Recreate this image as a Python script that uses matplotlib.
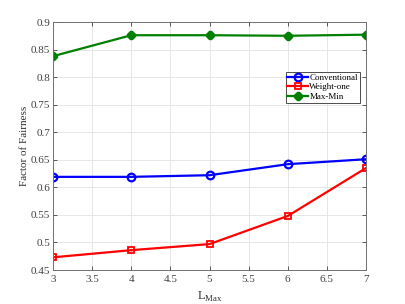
import matplotlib.pyplot as plt
import numpy as np

L_max = [3, 4, 5, 6, 7]
conventional = [0.619, 0.619, 0.622, 0.642, 0.651]
weight_one = [0.473, 0.486, 0.497, 0.548, 0.635]
max_min = [0.838, 0.876, 0.876, 0.875, 0.877]

plt.rcParams['font.family'] = ['Liberation Serif', 'DejaVu Serif']
plt.rcParams['mathtext.fontset'] = 'custom'
plt.rcParams['mathtext.rm'] = 'Liberation Serif'

fig = plt.figure(figsize=(4.05, 3.04), dpi=100)
ax = fig.add_axes([53 / 405, 1 - 270 / 304, 313 / 405, 248 / 304])

ax.plot(L_max, conventional, color='blue', lw=1.6, marker='o', ms=5.5,
        mfc='none', mew=1.6, label='Conventional')
ax.plot(L_max, weight_one, color='red', lw=1.6, marker='s', ms=4.5,
        mfc='none', mew=1.3, label='Weight-one')
ax.plot(L_max, max_min, color='green', lw=1.6, marker='8', ms=5.5,
        mfc='green', mew=1.0, label='Max-Min')

ax.set_xlim(3, 7)
ax.set_ylim(0.45, 0.9)
ax.set_xticks(np.arange(3, 7.01, 0.5))
ax.set_xticklabels(['3', '3.5', '4', '4.5', '5', '5.5', '6', '6.5', '7'])
ax.set_yticks(np.arange(0.45, 0.901, 0.05))
ax.set_yticklabels(['0.45', '0.5', '0.55', '0.6', '0.65', '0.7', '0.75', '0.8', '0.85', '0.9'])
ax.grid(True, color='#e6e6e6', lw=0.7)
ax.set_axisbelow(True)
ax.tick_params(direction='in', top=True, right=True, labelsize=8,
               colors='#404040', length=3, width=0.6)
ax.tick_params(axis='y', pad=2)
for s in ax.spines.values():
    s.set_color('#707070')
    s.set_linewidth(0.7)

ax.set_xlabel(r'L$_{\mathrm{Max}}$', fontsize=9, color='#303030', labelpad=4)
ax.set_ylabel('Factor of Fairness', fontsize=8, color='#303030')
ax.yaxis.set_label_coords(-0.078, 0.5)

leg = ax.legend(loc='upper right', bbox_to_anchor=(0.98, 0.80), fontsize=6.5,
                fancybox=False, framealpha=1, edgecolor='#303030',
                borderpad=0.2, handlelength=2.3, handletextpad=0.15,
                labelspacing=0.15, borderaxespad=0)
leg.get_frame().set_linewidth(0.6)

fig.savefig('out.png', dpi=100)
